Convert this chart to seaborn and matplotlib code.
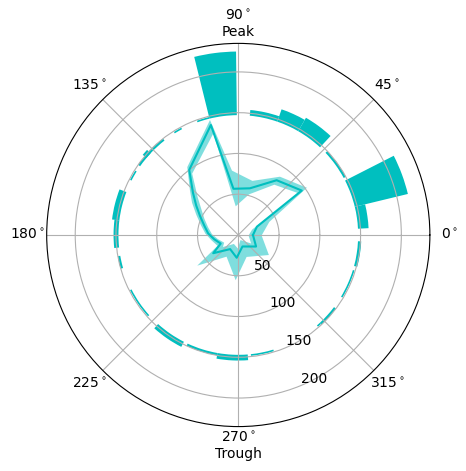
import numpy as np
import matplotlib
matplotlib.use("Agg")
import matplotlib.pyplot as plt
import seaborn as sns

# phase histogram (outer ring): left edge, width (deg) and bar top (r)
bar_left = [3, 13.6, 28.4, 47, 60, 71, 90.7, 103.9, 118, 128, 137, 148,
            159, 173, 190, 207, 228, 245, 260, 276, 311, 313, 329, 345]
bar_width = [10.6, 13.4, 14.9, 13, 11, 13.5, 13.2, 6, 4, 17, 3, 5,
             14, 13, 6, 15, 15, 15, 14.5, 11, 2, 10, 14, 12]
bar_top = [160, 214, 150, 166, 163, 154, 225, 149, 149, 150, 153, 149,
           156, 153, 150, 149, 154, 150, 154, 149, 149, 150, 149, 151]
bar_base = 147

# firing rate vs phase (mean with confidence band)
phase_deg = [0, 24, 35, 55, 76, 96, 104, 127, 137, 145, 154, 165, 177,
             190, 206, 216, 240, 266, 290, 327, 360]
rate_mean = [18, 25, 95, 82, 59, 57, 139, 100, 76, 63, 52, 43, 37,
             30, 24, 38, 20, 28, 15, 26, 18]
rate_lo = [12, 18, 90, 76, 52, 36, 129, 95, 69, 56, 47, 39, 33,
           26, 20, 24, 12, 16, 6, 18, 12]
rate_hi = [28, 41, 102, 88, 69, 80, 146, 105, 82, 70, 58, 48, 41,
           34, 29, 63, 30, 55, 28, 44, 28]

color = "c"

fig = plt.figure(figsize=(4.66, 4.71), dpi=100)
ax = fig.add_axes([0.1002, 0.0943, 0.8223, 0.8136], projection="polar")

theta_bar = np.deg2rad(bar_left)
ax.bar(theta_bar, np.array(bar_top) - bar_base, width=np.deg2rad(bar_width),
       bottom=bar_base, align="edge", color=color, edgecolor="none")

theta = np.deg2rad(phase_deg)
ax.fill_between(theta, rate_lo, rate_hi, color=color, alpha=0.5, linewidth=0)
sns.lineplot(x=theta, y=rate_mean, ax=ax, color=color, linewidth=1.5,
             sort=False, estimator=None)

ax.set_ylim(0, 235)
ax.set_yticks([50, 100, 150, 200])
ax.set_rlabel_position(292.5)
ax.set_xticks(np.deg2rad(np.arange(0, 360, 45)))
tick_text = [r"$%d^\circ$" % d for d in range(0, 360, 45)]
tick_text[2] += "\nPeak"
tick_text[6] += "\nTrough"
ax.set_xticklabels(tick_text)
ax.set_xlabel("")
ax.set_ylabel("")

fig.savefig("out.png", dpi=100)
